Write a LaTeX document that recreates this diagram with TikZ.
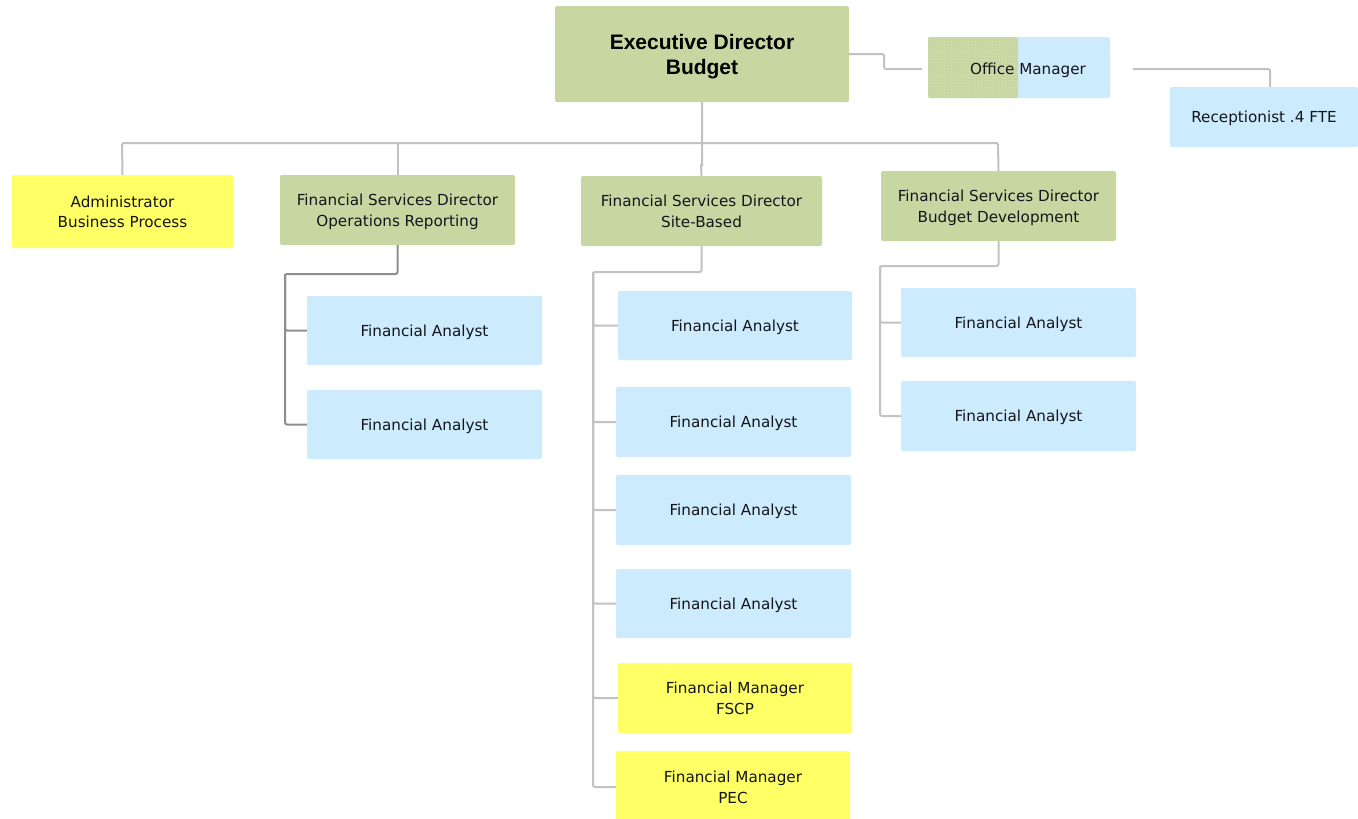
\documentclass[tikz,border=0pt]{standalone}
\usepackage{fontspec}
\setmainfont{DejaVu Sans}
\newfontfamily\headfont{Liberation Sans}
\usetikzlibrary{patterns}
\definecolor{boxgreen}{HTML}{C8D7A1}
\definecolor{boxblue}{HTML}{CCEBFD}
\definecolor{boxyellow}{HTML}{FFFF66}
\definecolor{dotgreen}{HTML}{E6EED2}
\definecolor{linelight}{HTML}{C2C2C2}
\definecolor{linedark}{HTML}{8E8E8E}
\definecolor{txt}{HTML}{14141C}
\tikzset{
  box/.style={rounded corners=2pt, inner sep=0pt, align=center, text=txt,
    text depth=0pt, font=\fontsize{15.2}{20.5}\selectfont},
  greenbox/.style={box, fill=boxgreen},
  bluebox/.style={box, fill=boxblue},
  yellowbox/.style={box, fill=boxyellow},
  conn/.style={draw=linelight, line width=2pt, rounded corners=2pt},
  conndark/.style={draw=linedark, line width=2pt, rounded corners=2pt},
}
\begin{document}
\begin{tikzpicture}[x=1pt,y=-1pt]
\useasboundingbox (0,0) rectangle (1358,819);

% top level
\node[greenbox, minimum width=294pt, minimum height=96pt,
  font=\headfont\bfseries\fontsize{21}{25}\selectfont, text=black]
  (exec) at (702,54) {Executive Director\\Budget};

\node[bluebox, minimum width=182pt, minimum height=61pt,
  path picture={
    \fill[boxgreen] (path picture bounding box.north west) rectangle
      ([xshift=90pt]path picture bounding box.south west);
    \fill[pattern=dots, pattern color=dotgreen] (path picture bounding box.north west) rectangle
      ([xshift=90pt]path picture bounding box.south west);
  }] (om) at (1019,67.5) {};
\node[box] (omtext) at (1028,68.5) {Office Manager};

\node[bluebox, minimum width=188pt, minimum height=60pt] (recep) at (1264,117) {Receptionist .4 FTE};

% second level
\node[yellowbox, minimum width=221pt, minimum height=73pt] (admin) at (122.5,211.5) {Administrator\\Business Process};
\node[greenbox, minimum width=235pt, minimum height=70pt] (ops) at (397.5,210) {Financial Services Director\\Operations Reporting};
\node[greenbox, minimum width=241pt, minimum height=70pt] (site) at (701.5,211) {Financial Services Director\\Site-Based};
\node[greenbox, minimum width=235pt, minimum height=70pt] (bud) at (998.5,206) {Financial Services Director\\Budget Development};

% operations reporting staff
\node[bluebox, minimum width=235pt, minimum height=69pt] (opsa) at (424.5,330.5) {Financial Analyst};
\node[bluebox, minimum width=235pt, minimum height=69pt] (opsb) at (424.5,424.5) {Financial Analyst};

% site-based staff
\node[bluebox, minimum width=234pt, minimum height=69pt] (sitea) at (735,325.5) {Financial Analyst};
\node[bluebox, minimum width=235pt, minimum height=70pt] (siteb) at (733.5,422) {Financial Analyst};
\node[bluebox, minimum width=235pt, minimum height=70pt] (sitec) at (733.5,510) {Financial Analyst};
\node[bluebox, minimum width=235pt, minimum height=69pt] (sited) at (733.5,603.5) {Financial Analyst};
\node[yellowbox, minimum width=234pt, minimum height=70pt] (sitee) at (735,698) {Financial Manager\\FSCP};
\node[yellowbox, minimum width=234pt, minimum height=72pt] (sitef) at (733,787) {Financial Manager\\PEC};

% budget development staff
\node[bluebox, minimum width=235pt, minimum height=69pt] (buda) at (1018.5,322.5) {Financial Analyst};
\node[bluebox, minimum width=235pt, minimum height=70pt] (budb) at (1018.5,416) {Financial Analyst};

% connectors: executive to office manager and receptionist
\coordinate (omin) at (922,69);
\coordinate (omout) at (1133,69);
\coordinate (rectop) at (1270,87);
\draw[conn] (exec.east) -- (884,54) -- (884,69) -- (omin);
\draw[conn] (omout) -| (rectop);

% connectors: executive to directors
\coordinate (busL) at (122,143);
\coordinate (busR) at (998,143);
\draw[conn] (admin.north) -- (busL) -- (busR) -- (bud.north);
\draw[conn, rounded corners=0pt] (exec.south) -- (702,165) -- (701,165) -- (site.north);
\draw[conn] (ops.north) -- (ops.north |- busL);

% connectors: operations reporting
\coordinate (opsbus) at (285,274);
\draw[conndark] (ops.south) |- (opsbus) |- (opsb.west);
\draw[conndark] (opsbus) |- (opsa.west);

% connectors: site-based
\coordinate (sitebus) at (593,272);
\draw[conn] (site.south) |- (sitebus) |- (sitef.west);
\foreach \n in {sitea,siteb,sitec,sited,sitee}
  \draw[conn] (sitebus) |- (\n.west);

% connectors: budget development
\coordinate (budbus) at (880,266);
\draw[conn] (bud.south) |- (budbus) |- (budb.west);
\draw[conn] (budbus) |- (buda.west);
\end{tikzpicture}
\end{document}
